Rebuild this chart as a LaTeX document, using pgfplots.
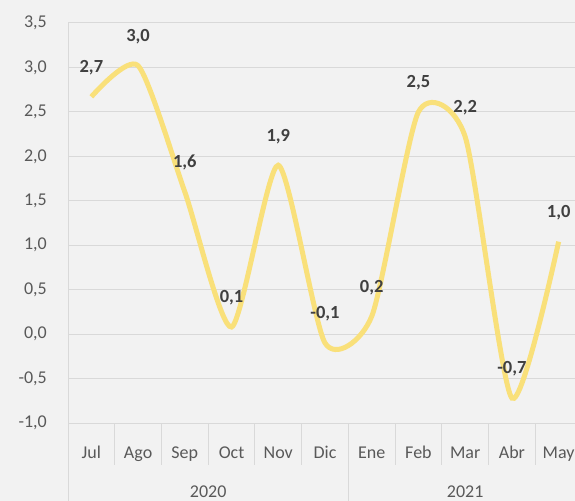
\documentclass[border=0pt]{standalone}
\usepackage{pgfplots}
\pgfplotsset{compat=1.18}
\usepackage{fontspec}
\setmainfont{Carlito}
\definecolor{bg}{HTML}{F2F2F2}
\definecolor{gridc}{HTML}{D9D9D9}
\definecolor{tickc}{HTML}{595959}
\definecolor{labc}{HTML}{404040}
\definecolor{linec}{HTML}{F9E07A}
\begin{document}
\begin{tikzpicture}
\fill[bg] (0,0) rectangle (575bp,501bp);
\begin{axis}[
  at={(68bp,78bp)}, anchor=south west,
  scale only axis, width=514bp, height=400bp,
  xmin=-0.5, xmax=10.5, ymin=-1, ymax=3.5,
  clip=false,
  axis line style={draw=none},
  ytick={-1,-0.5,0,0.5,1,1.5,2,2.5,3,3.5},
  yticklabels={{-1,0},{-0,5},{0,0},{0,5},{1,0},{1,5},{2,0},{2,5},{3,0},{3,5}},
  xtick={0,...,10},
  xticklabels={Jul,Ago,Sep,Oct,Nov,Dic,Ene,Feb,Mar,Abr,May},
  major tick length=0pt,
  ymajorgrids, grid style={gridc, line width=1bp},
  tick label style={font=\fontsize{18bp}{20bp}\selectfont, text=tickc},
  yticklabel style={anchor=east, inner sep=0pt, xshift=-21bp},
  xticklabel style={anchor=base, inner sep=0pt, yshift=-35bp},
]
\draw[gridc, line width=1bp] (axis cs:-0.5,3.5) -- ([yshift=-80bp]axis cs:-0.5,-1);
\draw[gridc, line width=1bp] (axis cs:5.5,-1) -- ([yshift=-80bp]axis cs:5.5,-1);
\draw[gridc, line width=1bp] (axis cs:0.5,-1) -- ([yshift=-42bp]axis cs:0.5,-1);
\draw[gridc, line width=1bp] (axis cs:1.5,-1) -- ([yshift=-42bp]axis cs:1.5,-1);
\draw[gridc, line width=1bp] (axis cs:2.5,-1) -- ([yshift=-42bp]axis cs:2.5,-1);
\draw[gridc, line width=1bp] (axis cs:3.5,-1) -- ([yshift=-42bp]axis cs:3.5,-1);
\draw[gridc, line width=1bp] (axis cs:4.5,-1) -- ([yshift=-42bp]axis cs:4.5,-1);
\draw[gridc, line width=1bp] (axis cs:6.5,-1) -- ([yshift=-42bp]axis cs:6.5,-1);
\draw[gridc, line width=1bp] (axis cs:7.5,-1) -- ([yshift=-42bp]axis cs:7.5,-1);
\draw[gridc, line width=1bp] (axis cs:8.5,-1) -- ([yshift=-42bp]axis cs:8.5,-1);
\draw[gridc, line width=1bp] (axis cs:9.5,-1) -- ([yshift=-42bp]axis cs:9.5,-1);
\node[anchor=base, inner sep=0pt, text=tickc, font=\fontsize{18bp}{20bp}\selectfont] at ([yshift=-74bp]axis cs:2.5,-1) {2020};
\node[anchor=base, inner sep=0pt, text=tickc, font=\fontsize{18bp}{20bp}\selectfont] at ([yshift=-74bp]axis cs:8,-1) {2021};
\addplot[linec, line width=5bp, smooth, tension=0.4,
  point meta=explicit symbolic,
  nodes near coords,
  nodes near coords style={anchor=center, yshift=29bp, text=labc, font=\bfseries\fontsize{18.5bp}{20bp}\selectfont}]
  coordinates {
  (0,2.67) [2,7]
  (1,3.02) [3,0]
  (2,1.6) [1,6]
  (3,0.08) [0,1]
  (4,1.9) [1,9]
  (5,-0.1) [-0,1]
  (6,0.2) [0,2]
  (7,2.5) [2,5]
  (8,2.22) [2,2]
  (9,-0.72) [-0,7]
  (10,1.04) [1,0]
  };
\end{axis}
\pgfresetboundingbox
\path[use as bounding box] (0,0) rectangle (575bp,501bp);
\end{tikzpicture}
\end{document}
